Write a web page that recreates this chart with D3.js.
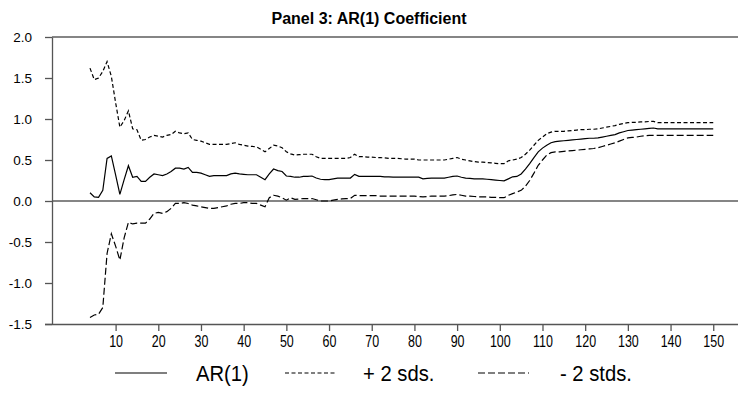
<!DOCTYPE html>
<html>
<head>
<meta charset="utf-8">
<script src="https://cdn.jsdelivr.net/npm/d3@7"></script>
<style>
  html, body { margin: 0; padding: 0; background: #fff; }
  svg { display: block; font-family: "Liberation Sans", Arial, sans-serif; }
</style>
</head>
<body>
<svg id="chart" width="738" height="395"></svg>
<script>
// Recursive estimates: observation index, AR(1) coefficient and +/- 2 s.d. bands
const obsStart = 4;
const ar1 = [
  0.10, 0.05, 0.045, 0.13, 0.52, 0.55, 0.32, 0.08, 0.26, 0.43,            // 4-13
  0.29, 0.30, 0.24, 0.24, 0.29, 0.33, 0.32, 0.31, 0.33, 0.36,             // 14-23
  0.40, 0.40, 0.39, 0.41, 0.35, 0.35, 0.34, 0.32, 0.30, 0.31,             // 24-33
  0.31, 0.31, 0.31, 0.33, 0.34, 0.33, 0.325, 0.32, 0.32, 0.32,            // 34-43
  0.29, 0.26, 0.33, 0.39, 0.37, 0.36, 0.305, 0.30, 0.29, 0.29,            // 44-53
  0.30, 0.30, 0.305, 0.28, 0.265, 0.26, 0.26, 0.27, 0.28, 0.28,           // 54-63
  0.28, 0.28, 0.325, 0.30, 0.30, 0.30, 0.30, 0.30, 0.30, 0.295,           // 64-73
  0.295, 0.29, 0.29, 0.29, 0.29, 0.29, 0.29, 0.29, 0.27, 0.275,           // 74-83
  0.28, 0.28, 0.28, 0.28, 0.29, 0.30, 0.305, 0.29, 0.28, 0.275,           // 84-93
  0.27, 0.27, 0.27, 0.265, 0.26, 0.255, 0.25, 0.245, 0.27, 0.295,         // 94-103
  0.30, 0.33, 0.39, 0.455, 0.53, 0.60, 0.645, 0.68, 0.71, 0.725,          // 104-113
  0.73, 0.735, 0.74, 0.745, 0.75, 0.755, 0.76, 0.765, 0.765, 0.77,        // 114-123
  0.78, 0.79, 0.80, 0.81, 0.83, 0.845, 0.86, 0.865, 0.87, 0.875,          // 124-133
  0.88, 0.885, 0.89, 0.88, 0.88, 0.88, 0.88, 0.88, 0.88, 0.88,            // 134-143
  0.88, 0.88, 0.88, 0.88, 0.88, 0.88, 0.88                                // 144-150
];
const upper2sd = [
  1.62, 1.48, 1.50, 1.58, 1.70, 1.52, 1.20, 0.90, 0.98, 1.10,
  0.88, 0.87, 0.74, 0.75, 0.78, 0.80, 0.79, 0.78, 0.80, 0.81,
  0.85, 0.83, 0.82, 0.83, 0.75, 0.74, 0.73, 0.71, 0.69, 0.69,
  0.69, 0.69, 0.69, 0.70, 0.71, 0.69, 0.68, 0.67, 0.665, 0.66,
  0.63, 0.60, 0.64, 0.68, 0.67, 0.65, 0.60, 0.575, 0.56, 0.565,
  0.57, 0.57, 0.57, 0.54, 0.52, 0.52, 0.52, 0.52, 0.52, 0.52,
  0.52, 0.53, 0.57, 0.54, 0.54, 0.535, 0.535, 0.53, 0.53, 0.525,
  0.52, 0.52, 0.52, 0.515, 0.51, 0.51, 0.51, 0.50, 0.50, 0.50,
  0.50, 0.50, 0.50, 0.50, 0.51, 0.52, 0.53, 0.51, 0.50, 0.49,
  0.48, 0.475, 0.475, 0.47, 0.465, 0.46, 0.455, 0.455, 0.49, 0.50,
  0.51, 0.53, 0.57, 0.62, 0.68, 0.74, 0.78, 0.82, 0.84, 0.85,
  0.85, 0.85, 0.855, 0.86, 0.865, 0.87, 0.87, 0.875, 0.875, 0.88,
  0.89, 0.90, 0.91, 0.92, 0.935, 0.945, 0.955, 0.96, 0.96, 0.965,
  0.965, 0.97, 0.97, 0.955, 0.955, 0.955, 0.955, 0.955, 0.955, 0.955,
  0.955, 0.955, 0.955, 0.955, 0.955, 0.955, 0.955
];
const lower2sd = [
  -1.42, -1.39, -1.38, -1.30, -0.64, -0.40, -0.55, -0.72, -0.45, -0.26,
  -0.28, -0.27, -0.27, -0.27, -0.22, -0.15, -0.14, -0.15, -0.13, -0.09,
  -0.03, -0.03, -0.02, -0.03, -0.05, -0.06, -0.07, -0.08, -0.09, -0.09,
  -0.08, -0.07, -0.06, -0.04, -0.03, -0.03, -0.02, -0.02, -0.03, -0.03,
  -0.05, -0.07, 0.04, 0.07, 0.06, 0.04, 0.01, 0.04, 0.02, 0.025,
  0.03, 0.03, 0.03, 0.015, 0.0, 0.0, 0.0, 0.01, 0.02, 0.025,
  0.03, 0.03, 0.07, 0.065, 0.065, 0.065, 0.065, 0.065, 0.06, 0.06,
  0.06, 0.06, 0.06, 0.06, 0.06, 0.06, 0.06, 0.055, 0.05, 0.055,
  0.06, 0.06, 0.06, 0.06, 0.065, 0.075, 0.08, 0.07, 0.06, 0.06,
  0.055, 0.05, 0.05, 0.05, 0.045, 0.045, 0.04, 0.04, 0.07, 0.09,
  0.11, 0.13, 0.18, 0.25, 0.34, 0.435, 0.50, 0.56, 0.59, 0.60,
  0.60, 0.605, 0.61, 0.615, 0.62, 0.625, 0.63, 0.635, 0.64, 0.65,
  0.665, 0.68, 0.695, 0.71, 0.73, 0.75, 0.77, 0.775, 0.78, 0.79,
  0.795, 0.80, 0.80, 0.80, 0.80, 0.80, 0.80, 0.80, 0.80, 0.80,
  0.80, 0.80, 0.80, 0.80, 0.80, 0.80, 0.80
];
const xTicks = [10, 20, 30, 40, 50, 60, 70, 80, 90, 100, 110, 120, 130, 140, 150];
const yTicks = [-1.5, -1.0, -0.5, 0.0, 0.5, 1.0, 1.5, 2.0];
const legendLabels = ["AR(1)", "+ 2 sds.", "- 2 stds."];
const titleText = "Panel 3: AR(1) Coefficient";

const svg = d3.select("#chart");
const plotLeft = 52, plotRight = 738, plotTop = 37, plotBottom = 324;

const x = d3.scaleLinear().domain([-4.9, 155.8]).range([plotLeft, plotRight]);
const y = d3.scaleLinear().domain([-1.5, 2.0]).range([plotBottom, plotTop]);

const axisColor = "#555";
const refColor = "#858585";

// title
svg.append("text")
  .attr("x", 369).attr("y", 24)
  .attr("text-anchor", "middle")
  .attr("font-size", 16).attr("font-weight", "bold")
  .attr("fill", "#000")
  .text(titleText);

// top frame line and zero reference line
svg.append("line")
  .attr("x1", plotLeft).attr("x2", plotRight).attr("y1", y(2.0)).attr("y2", y(2.0))
  .attr("stroke", refColor).attr("stroke-width", 2);
svg.append("line")
  .attr("x1", plotLeft).attr("x2", plotRight).attr("y1", y(0)).attr("y2", y(0))
  .attr("stroke", refColor).attr("stroke-width", 2);

// y axis
const yAxis = svg.append("g")
  .attr("transform", `translate(${plotLeft},0)`)
  .call(d3.axisLeft(y).tickValues(yTicks).tickFormat(d => d.toFixed(1)).tickSize(7).tickSizeOuter(0).tickPadding(13));
yAxis.select(".domain").attr("stroke", axisColor).attr("stroke-width", 1.3);
yAxis.selectAll(".tick line").attr("stroke", axisColor).attr("stroke-width", 1.3);
yAxis.selectAll(".tick text")
  .attr("font-size", 13.5).attr("fill", "#000")
  .attr("font-family", "Liberation Sans, Arial, sans-serif");

// x axis
const xAxis = svg.append("g")
  .attr("transform", `translate(0,${plotBottom})`)
  .call(d3.axisBottom(x).tickValues(xTicks).tickFormat(d => String(d)).tickSize(7).tickSizeOuter(0).tickPadding(5));
xAxis.select(".domain").attr("stroke", axisColor).attr("stroke-width", 1.3)
  .attr("d", `M${plotLeft - 7},0.5H${plotRight}`);
xAxis.selectAll(".tick line").attr("stroke", axisColor).attr("stroke-width", 1.3);
xAxis.selectAll(".tick text")
  .attr("font-size", 16).attr("fill", "#000")
  .attr("font-family", "Liberation Sans, Arial, sans-serif")
  .attr("transform", "scale(0.78,1)");

// series
const series = [
  { name: legendLabels[0], values: ar1, dash: null },
  { name: legendLabels[1], values: upper2sd, dash: "4,2.5" },
  { name: legendLabels[2], values: lower2sd, dash: "7,3" }
];

const line = d3.line()
  .x((d, i) => x(obsStart + i))
  .y(d => y(d));

svg.append("g").selectAll("path")
  .data(series)
  .join("path")
  .attr("d", s => line(s.values))
  .attr("fill", "none")
  .attr("stroke", "#000")
  .attr("stroke-width", 1.2)
  .attr("stroke-dasharray", s => s.dash);

// legend
const legendY = 373;
const legendItems = [
  { x0: 115, x1: 167, tx: 196 },
  { x0: 285, x1: 335, tx: 363 },
  { x0: 478, x1: 529, tx: 560 }
];
const lg = svg.append("g");
series.forEach((s, i) => {
  const p = legendItems[i];
  lg.append("line")
    .attr("x1", p.x0).attr("x2", p.x1).attr("y1", legendY).attr("y2", legendY)
    .attr("stroke", "#000").attr("stroke-width", 1.2)
    .attr("stroke-dasharray", s.dash);
  lg.append("text")
    .attr("transform", `translate(${p.tx},${legendY + 8}) scale(0.92,1)`)
    .attr("font-size", 22).attr("fill", "#000")
    .text(s.name);
});
</script>
</body>
</html>
